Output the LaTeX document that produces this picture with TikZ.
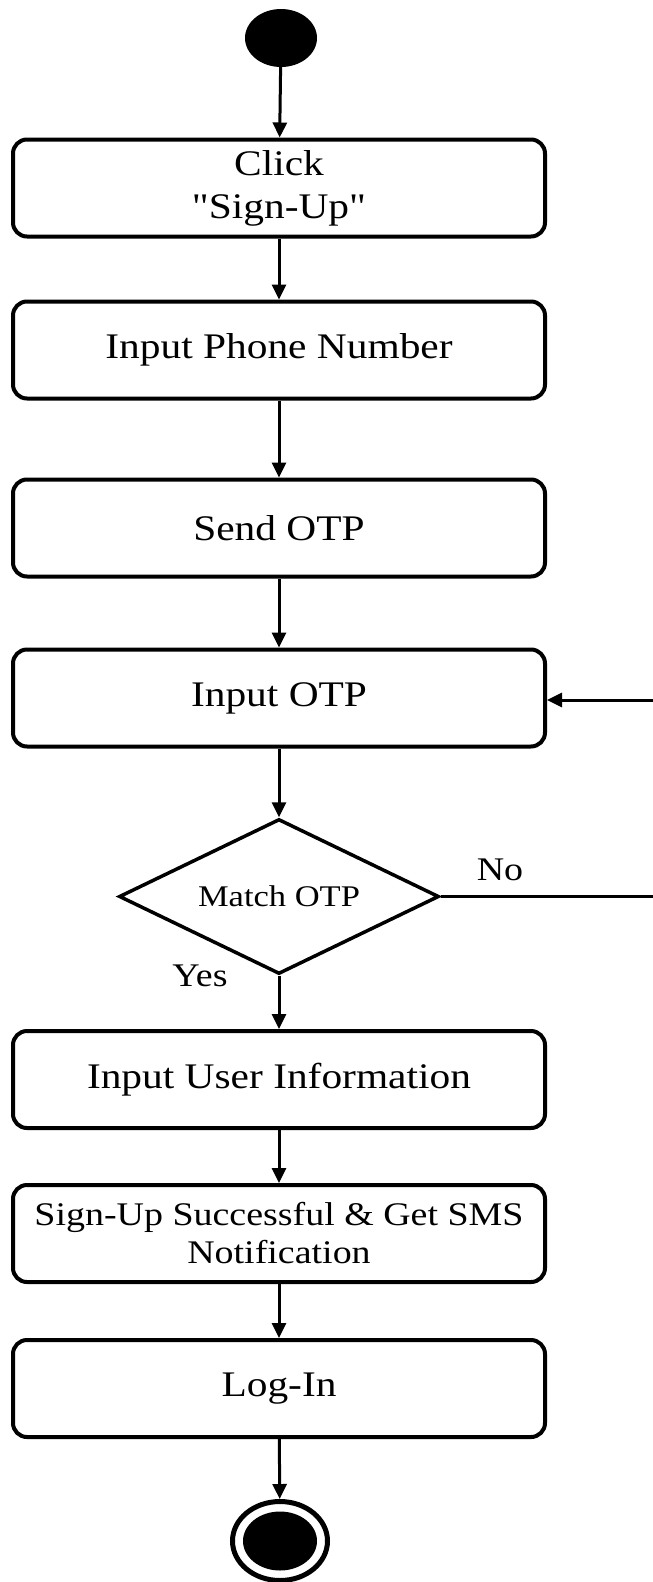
\documentclass[tikz,border=0pt]{standalone}
\usepackage{fontspec}
\setmainfont{Liberation Serif}[FakeStretch=1.15, Ligatures=TeXOff]
\usetikzlibrary{shapes.geometric,arrows.meta}
\begin{document}
\begin{tikzpicture}[x=1pt,y=-1pt,
  act/.style={draw, line width=4pt, rounded corners=14pt, minimum width=532pt,
    minimum height=97pt, align=center, inner sep=0pt,
    font=\fontsize{36}{43}\selectfont},
  decide/.style={diamond, draw, line width=3.5pt, shape aspect=2.06,
    minimum width=320pt, minimum height=155pt, inner sep=0pt,
    font=\fontsize{30}{36}\selectfont},
  flow/.style={line width=3pt, -{Triangle[length=15pt,width=14pt]}},
  plain/.style={line width=3pt},
  lbl/.style={font=\fontsize{33}{40}\selectfont, inner sep=0pt}]
\useasboundingbox (0,0) rectangle (653,1582);

% initial and final states
\node[ellipse, fill=black, minimum width=72pt, minimum height=58pt, inner sep=0pt] (start) at (281,38) {};
\node[ellipse, draw, line width=5pt, minimum width=95pt, minimum height=79pt, inner sep=0pt] (final) at (280,1541) {};
\node[ellipse, fill=black, minimum width=74pt, minimum height=59pt, inner sep=0pt] (finaldot) at (280,1541) {};

% activities
\node[act] (click) at (279,188) {Click\\"Sign-Up"};
\node[act] (phone) at (279,350) {Input Phone Number};
\node[act] (send) at (279,528) {Send OTP};
\node[act] (otp) at (279,698) {Input OTP};
\node[decide] (match) at (279,896.5) {Match OTP};
\node[act] (info) at (279,1079.5) {Input User Information};
\node[act, font=\fontsize{33}{38}\selectfont] (done) at (279,1233.5) {Sign-Up Successful \& Get SMS\\Notification};
\node[act] (login) at (279,1388.5) {Log-In};

% guard labels
\node[lbl] (no) at (500,870) {No};
\node[lbl] (yes) at (200,976) {Yes};

% main flow
\draw[flow] (start) -- (click);
\draw[flow] (click) -- (phone);
\draw[flow] (phone) -- (send);
\draw[flow] (send) -- (otp);
\draw[flow] (otp) -- (match.north);
\draw[flow] (match.south) -- (info);
\draw[flow] (info) -- (done);
\draw[flow] (done) -- (login);
\draw[flow] (login) -- (final);

% retry loop running off the right side
\coordinate (noend) at (653,896.5);
\coordinate (retry) at (653,700);
\draw[plain] (match.east) -- (noend);
\draw[flow] (retry) -- (otp.east |- retry);
\end{tikzpicture}
\end{document}
